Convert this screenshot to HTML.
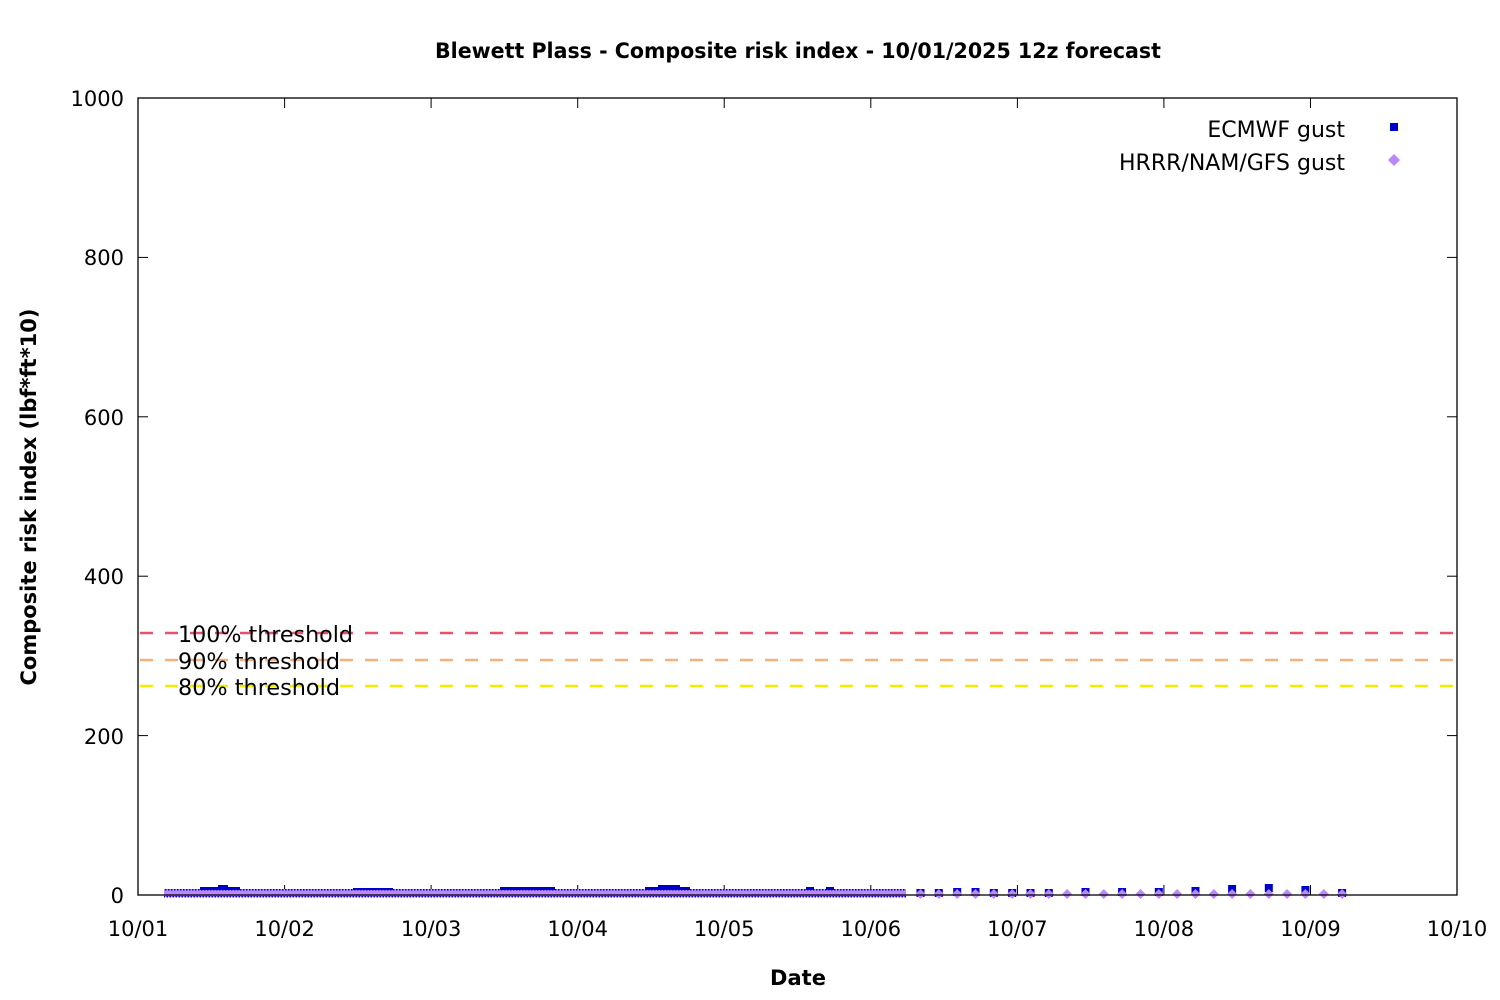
<!DOCTYPE html>
<html><head><meta charset="utf-8"><style>
body{margin:0;background:#fff}
svg{display:block}
text{font-family:"DejaVu Sans","Liberation Sans",sans-serif;fill:#000}
</style></head><body>
<svg width="1500" height="1000" xmlns="http://www.w3.org/2000/svg">
<defs>
<pattern id="band" x="0" y="886" width="3" height="14" patternUnits="userSpaceOnUse">
<rect x="0" y="3" width="3" height="8" fill="#bb88ff"/>
<rect x="0" y="3" width="1.5" height="1.5" fill="#0000cc"/>
<rect x="1.5" y="10" width="1.5" height="1.5" fill="#0000cc"/>
</pattern>
<g id="s"><rect x="-4" y="-4" width="8" height="8" fill="#0000cc"/></g>
<g id="d"><polygon points="0,-5 5,0 0,5 -5,0" fill="#bb88ff"/></g>
</defs>
<text x="798" y="58" text-anchor="middle" font-size="21" font-weight="bold" textLength="726" lengthAdjust="spacingAndGlyphs">Blewett Plass - Composite risk index - 10/01/2025 12z forecast</text>
<text x="798" y="985" text-anchor="middle" font-size="21" font-weight="bold">Date</text>
<text transform="translate(36,497) rotate(-90)" text-anchor="middle" font-size="21" font-weight="bold">Composite risk index (lbf*ft*10)</text>

<g stroke="#000" stroke-width="1">
<line x1="138" x2="148" y1="895" y2="895"/><line x1="1447" x2="1457" y1="895" y2="895"/>
<line x1="138" x2="148" y1="735.6" y2="735.6"/><line x1="1447" x2="1457" y1="735.6" y2="735.6"/>
<line x1="138" x2="148" y1="576.2" y2="576.2"/><line x1="1447" x2="1457" y1="576.2" y2="576.2"/>
<line x1="138" x2="148" y1="416.8" y2="416.8"/><line x1="1447" x2="1457" y1="416.8" y2="416.8"/>
<line x1="138" x2="148" y1="257.4" y2="257.4"/><line x1="1447" x2="1457" y1="257.4" y2="257.4"/>
<line x1="284.6" x2="284.6" y1="895" y2="885"/><line x1="284.6" x2="284.6" y1="98" y2="108"/>
<line x1="431.1" x2="431.1" y1="895" y2="885"/><line x1="431.1" x2="431.1" y1="98" y2="108"/>
<line x1="577.7" x2="577.7" y1="895" y2="885"/><line x1="577.7" x2="577.7" y1="98" y2="108"/>
<line x1="724.2" x2="724.2" y1="895" y2="885"/><line x1="724.2" x2="724.2" y1="98" y2="108"/>
<line x1="870.8" x2="870.8" y1="895" y2="885"/><line x1="870.8" x2="870.8" y1="98" y2="108"/>
<line x1="1017.4" x2="1017.4" y1="895" y2="885"/><line x1="1017.4" x2="1017.4" y1="98" y2="108"/>
<line x1="1163.9" x2="1163.9" y1="895" y2="885"/><line x1="1163.9" x2="1163.9" y1="98" y2="108"/>
<line x1="1310.5" x2="1310.5" y1="895" y2="885"/><line x1="1310.5" x2="1310.5" y1="98" y2="108"/>
</g>
<g font-size="21" text-anchor="end">
<text x="124" y="903">0</text><text x="124" y="744">200</text><text x="124" y="584">400</text>
<text x="124" y="425">600</text><text x="124" y="265">800</text><text x="124" y="106">1000</text>
</g>
<g font-size="21" text-anchor="middle">
<text x="138" y="936">10/01</text><text x="284.6" y="936">10/02</text><text x="431.1" y="936">10/03</text>
<text x="577.7" y="936">10/04</text><text x="724.2" y="936">10/05</text><text x="870.8" y="936">10/06</text>
<text x="1017.4" y="936">10/07</text><text x="1163.9" y="936">10/08</text><text x="1310.5" y="936">10/09</text>
<text x="1457" y="936">10/10</text>
</g>

<g stroke-width="2.5" stroke-dasharray="13,12">
<line x1="140" x2="1457" y1="633" y2="633" stroke="#e8506e"/>
<line x1="140" x2="1457" y1="660" y2="660" stroke="#f5b080"/>
<line x1="140" x2="1457" y1="686" y2="686" stroke="#eeee00"/>
</g>
<g font-size="22">
<text x="178" y="642" textLength="175" lengthAdjust="spacingAndGlyphs">100% threshold</text>
<text x="178" y="669" textLength="162" lengthAdjust="spacingAndGlyphs">90% threshold</text>
<text x="178" y="695" textLength="162" lengthAdjust="spacingAndGlyphs">80% threshold</text>
</g>

<!-- dense band -->
<rect x="164" y="886" width="742" height="14" fill="url(#band)"/>
<rect x="200" y="887" width="40" height="3" fill="#0000cc"/>
<rect x="218" y="885" width="10" height="3" fill="#0000cc"/>
<rect x="353" y="888" width="40" height="2" fill="#0000cc"/>
<rect x="500" y="887" width="55" height="3" fill="#0000cc"/>
<rect x="645" y="887" width="45" height="3" fill="#0000cc"/>
<rect x="658" y="885" width="22" height="3" fill="#0000cc"/>
<rect x="806" y="887" width="8" height="3" fill="#0000cc"/>
<rect x="826" y="887" width="8" height="3" fill="#0000cc"/>

<!-- sparse -->
<use href="#s" x="920.5" y="893"/><use href="#s" x="938.8" y="893"/><use href="#s" x="957.2" y="892"/>
<use href="#s" x="975.5" y="892"/><use href="#s" x="993.8" y="893"/><use href="#s" x="1012.2" y="893"/>
<use href="#s" x="1030.5" y="893"/><use href="#s" x="1048.8" y="893"/><use href="#s" x="1085.5" y="892"/>
<use href="#s" x="1122.1" y="892"/><use href="#s" x="1158.8" y="892"/><use href="#s" x="1195.5" y="891"/>
<use href="#s" x="1232.1" y="889"/><use href="#s" x="1268.8" y="888"/><use href="#s" x="1305.4" y="890"/>
<use href="#s" x="1342.1" y="893"/>
<use href="#d" x="920.5" y="894"/><use href="#d" x="938.8" y="894"/><use href="#d" x="957.2" y="894"/>
<use href="#d" x="975.5" y="894"/><use href="#d" x="993.8" y="894"/><use href="#d" x="1012.2" y="894"/>
<use href="#d" x="1030.5" y="894"/><use href="#d" x="1048.8" y="894"/><use href="#d" x="1067.1" y="894"/>
<use href="#d" x="1085.5" y="894"/><use href="#d" x="1103.8" y="894"/><use href="#d" x="1122.1" y="894"/>
<use href="#d" x="1140.5" y="894"/><use href="#d" x="1158.8" y="894"/><use href="#d" x="1177.1" y="894"/>
<use href="#d" x="1195.5" y="894"/><use href="#d" x="1213.8" y="894"/><use href="#d" x="1232.1" y="894"/>
<use href="#d" x="1250.4" y="894"/><use href="#d" x="1268.8" y="894"/><use href="#d" x="1287.1" y="894"/>
<use href="#d" x="1305.4" y="894"/><use href="#d" x="1323.8" y="894"/><use href="#d" x="1342.1" y="894"/>

<rect x="138" y="98" width="1319" height="797" fill="none" stroke="#000" stroke-width="1.3"/>
<text x="1345" y="137" text-anchor="end" font-size="22">ECMWF gust</text>
<rect x="1390" y="123" width="8" height="8" fill="#0000cc"/>
<text x="1345" y="170" text-anchor="end" font-size="22">HRRR/NAM/GFS gust</text>
<polygon points="1394,154 1400,160 1394,166 1388,160" fill="#bb88ff"/>
</svg>
</body></html>
